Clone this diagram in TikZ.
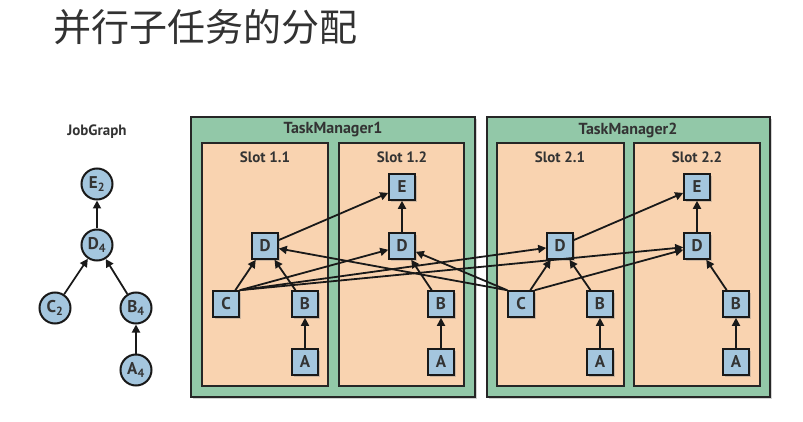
\documentclass[tikz,border=0pt]{standalone}
\usepackage{xcolor}
\usepackage{fontspec}
\setmainfont{PT Sans}
\newfontfamily\cjkfont{Noto Sans CJK SC}
\usetikzlibrary{shapes,arrows.meta,positioning,calc,shadows}

\definecolor{tmgreen}{RGB}{146,200,168}
\definecolor{slotpeach}{RGB}{249,211,176}
\definecolor{taskblue}{RGB}{164,198,222}
\definecolor{inkgray}{RGB}{50,50,50}

\begin{document}
\begin{tikzpicture}[x=1pt, y=-1pt,
  tmbox/.style={draw=black!85, line width=1.8pt, fill=tmgreen,
    drop shadow={shadow xshift=2pt, shadow yshift=-2pt, opacity=0.35}},
  slotbox/.style={draw=black!85, line width=1.8pt, fill=slotpeach},
  task/.style={draw=black!90, line width=1.6pt, fill=taskblue, minimum size=26pt,
    inner sep=0pt, font=\bfseries\fontsize{17}{17}\selectfont, text=black!80,
    drop shadow={shadow xshift=2pt, shadow yshift=-2pt, opacity=0.35}},
  job/.style={draw=black!90, circle, line width=2pt, fill=taskblue, minimum size=31pt,
    inner sep=0pt, font=\bfseries\fontsize{17}{17}\selectfont, text=black!80},
  lbl/.style={font=\bfseries\fontsize{16}{16}\selectfont, text=black!80},
  flow/.style={-{Triangle[length=8pt,width=8pt]}, line width=1.8pt, black!90}]
\useasboundingbox (0,0) rectangle (803,422);

% Title
\node[font=\cjkfont\fontsize{38}{38}\selectfont, text=inkgray] (title) at (205,27) {并行子任务的分配};

% JobGraph
\node[lbl, font=\bfseries\fontsize{15}{15}\selectfont] (jglabel) at (97,132) {JobGraph};
\node[job] (je) at (97,184) {E\textsubscript{2}};
\node[job] (jd) at (97,245) {D\textsubscript{4}};
\node[job] (jc) at (55,308) {C\textsubscript{2}};
\node[job] (jb) at (136,308) {B\textsubscript{4}};
\node[job] (ja) at (136,370) {A\textsubscript{4}};

\draw[flow] (jd) -- (je);
\draw[flow] (jc) -- (jd);
\draw[flow] (jb) -- (jd);
\draw[flow] (ja) -- (jb);

% TaskManagers and slots
\draw[tmbox] (191,117) rectangle (475,397);
\draw[tmbox] (487,117) rectangle (770,397);
\draw[slotbox] (202,143) rectangle (328,386);
\draw[slotbox] (339,143) rectangle (464,386);
\draw[slotbox] (497,143) rectangle (624,386);
\draw[slotbox] (634,143) rectangle (760,386);

\node[lbl] (tm1) at (333,130) {TaskManager1};
\node[lbl] (tm2) at (628,130) {TaskManager2};
\node[lbl, font=\bfseries\fontsize{15}{15}\selectfont] (s11) at (265,157) {Slot 1.1};
\node[lbl, font=\bfseries\fontsize{15}{15}\selectfont] (s12) at (402,157) {Slot 1.2};
\node[lbl, font=\bfseries\fontsize{15}{15}\selectfont] (s21) at (560,157) {Slot 2.1};
\node[lbl, font=\bfseries\fontsize{15}{15}\selectfont] (s22) at (697,157) {Slot 2.2};

% Slot 1.1
\node[task] (d11) at (265,246) {D};
\node[task] (c11) at (226,304) {C};
\node[task] (b11) at (305,304) {B};
\node[task] (a11) at (305,362) {A};

% Slot 1.2
\node[task] (e12) at (402,187) {E};
\node[task] (d12) at (402,246) {D};
\node[task] (b12) at (441,304) {B};
\node[task] (a12) at (441,362) {A};

% Slot 2.1
\node[task] (d21) at (560,246) {D};
\node[task] (c21) at (521,304) {C};
\node[task] (b21) at (600,304) {B};
\node[task] (a21) at (600,362) {A};

% Slot 2.2
\node[task] (e22) at (697,187) {E};
\node[task] (d22) at (697,246) {D};
\node[task] (b22) at (736,304) {B};
\node[task] (a22) at (736,362) {A};

% A -> B
\draw[flow] (a11) -- (b11);
\draw[flow] (a12) -- (b12);
\draw[flow] (a21) -- (b21);
\draw[flow] (a22) -- (b22);

% B -> D
\draw[flow] (b11) -- (d11);
\draw[flow] (b12) -- (d12);
\draw[flow] (b21) -- (d21);
\draw[flow] (b22) -- (d22);

% C -> D (all to all)
\draw[flow] (c11) -- (d11);
\draw[flow] (c11.north east) -- (d12);
\draw[flow] (c11.north east) -- (d21);
\draw[flow] (c11.north east) -- (d22);
\draw[flow] (c21.north west) -- (d11);
\draw[flow] (c21.north west) -- (d12);
\draw[flow] (c21) -- (d21);
\draw[flow] (c21.north east) -- (d22);

% D -> E
\draw[flow] (d11) -- (e12);
\draw[flow] (d12) -- (e12);
\draw[flow] (d21) -- (e22);
\draw[flow] (d22) -- (e22);

\end{tikzpicture}
\end{document}
